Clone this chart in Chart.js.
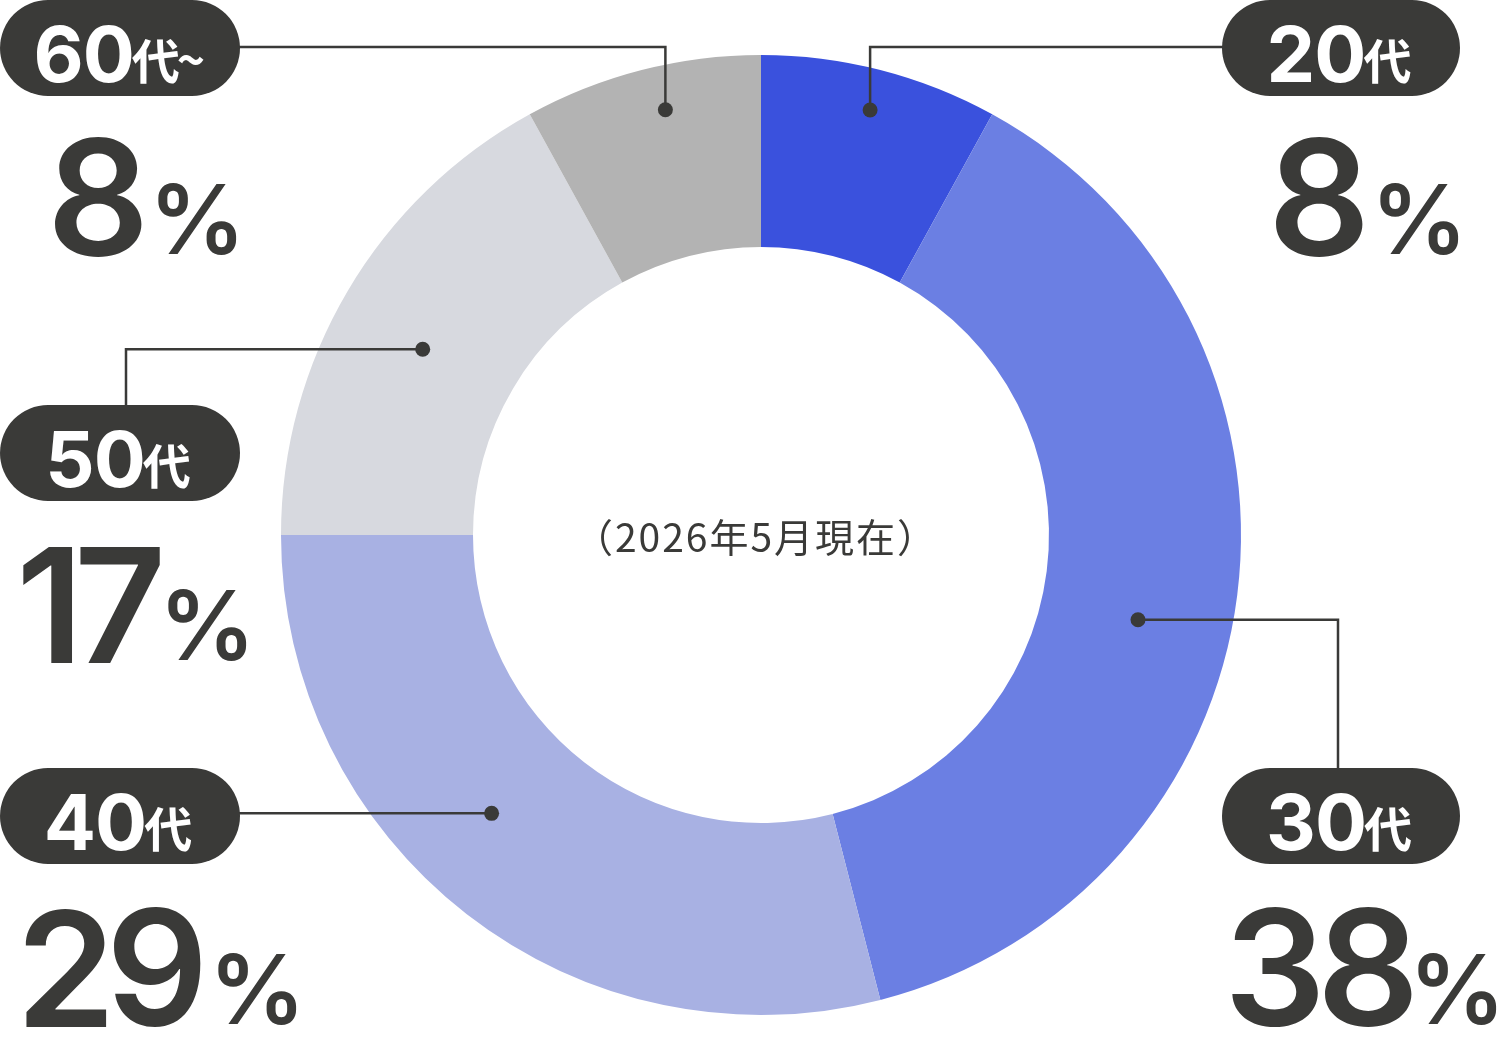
<!DOCTYPE html>
<html><head><meta charset="utf-8">
<script src="https://cdn.jsdelivr.net/npm/chart.js@4.4.1/dist/chart.umd.min.js"></script>
<style>html,body{margin:0;padding:0;background:#fff}canvas{display:block}</style>
</head><body>
<canvas id="c" width="1497" height="1054"></canvas>
<script>
// ---- data ----
const categories = ['20代', '30代', '40代', '50代', '60代~'];
const percentages = [8, 38, 29, 17, 8];
const sliceColors = ['#3a51dd', '#6b7fe3', '#a8b1e3', '#d7d9df', '#b3b3b3'];
const centerNote = '（2026年5月現在）';

// ---- label layout (annotation placement only) ----
const labelLayout = [
  { t: 0.50, rf: 0.914, pill: { x: 1222, y: 0,   w: 238, h: 96 }, num: { x: 1276, y: 257, px: 1380 }, route: 'upRight' },
  { t: 0.54, rf: 0.805, pill: { x: 1222, y: 768, w: 238, h: 96 }, num: { x: 1232, y: 1027, px: 1418 }, route: 'rightDown' },
  { t: 0.56, rf: 0.807, pill: { x: 0,    y: 768, w: 240, h: 96 }, num: { x: 25,   y: 1027, px: 218 }, route: 'left' },
  { t: 0.47, rf: 0.804, pill: { x: 0,    y: 405, w: 240, h: 96 }, num: { x: 23,   y: 663, px: 168 }, route: 'leftDown' },
  { t: 0.56, rf: 0.908, pill: { x: 0,    y: 0,   w: 240, h: 96 }, num: { x: 55,   y: 257, px: 158 }, route: 'upLeft' }
];

const FONT = '"Noto Sans CJK JP", "Noto Sans", sans-serif';
const NUMFONT = 'Inter, "Noto Sans CJK JP", sans-serif';
const INK = '#3a3a38';

function inkText(ctx, str, left, bottom) {
  const m = ctx.measureText(str);
  ctx.fillText(str, left + m.actualBoundingBoxLeft, bottom - m.actualBoundingBoxDescent);
  return m.actualBoundingBoxLeft + m.actualBoundingBoxRight;
}

function sizeFor(ctx, weight, family, ch, targetH) {
  ctx.font = weight + ' 100px ' + family;
  const m = ctx.measureText(ch);
  return 100 * targetH / (m.actualBoundingBoxAscent + m.actualBoundingBoxDescent);
}

const labelsPlugin = {
  id: 'labelsPlugin',
  afterDatasetsDraw(chart) {
    const ctx = chart.ctx;
    const meta = chart.getDatasetMeta(0);
    ctx.save();
    meta.data.forEach((arc, i) => {
      const L = labelLayout[i];
      const p = arc.getProps(['x', 'y', 'startAngle', 'endAngle', 'outerRadius'], true);
      const a = p.startAngle + L.t * (p.endAngle - p.startAngle);
      const r = p.outerRadius * L.rf;
      const dx = p.x + r * Math.cos(a), dy = p.y + r * Math.sin(a);
      const pl = L.pill;
      const pcx = pl.x + pl.w / 2, pcy = pl.y + pl.h / 2;
      // leader line
      ctx.strokeStyle = INK; ctx.lineWidth = 2.5; ctx.lineJoin = 'miter';
      ctx.beginPath();
      ctx.moveTo(dx, dy);
      if (L.route === 'upRight') { ctx.lineTo(dx, pcy - 1); ctx.lineTo(pl.x + 10, pcy - 1); }
      else if (L.route === 'upLeft') { ctx.lineTo(dx, pcy - 1); ctx.lineTo(pl.x + pl.w - 10, pcy - 1); }
      else if (L.route === 'rightDown') { ctx.lineTo(pcx - 3, dy); ctx.lineTo(pcx - 3, pl.y + 5); }
      else if (L.route === 'leftDown') { ctx.lineTo(pcx + 6, dy); ctx.lineTo(pcx + 6, pl.y + 5); }
      else if (L.route === 'left') { ctx.lineTo(pl.x + pl.w - 10, dy); }
      ctx.stroke();
      ctx.fillStyle = INK;
      ctx.beginPath(); ctx.arc(dx, dy, 7.5, 0, Math.PI * 2); ctx.fill();
      // pill
      ctx.beginPath();
      ctx.roundRect(pl.x, pl.y, pl.w, pl.h, pl.h / 2);
      ctx.fill();
      // pill text
      const m = categories[i].match(/^(\d+)(.*)$/);
      const digits = m[1], rest = m[2];
      const kanji = rest.replace('~', ''), tilde = rest.includes('~') ? '~' : '';
      ctx.fillStyle = '#ffffff';
      ctx.textBaseline = 'alphabetic';
      ctx.textAlign = 'left';
      const pdSize = sizeFor(ctx, '700', NUMFONT, '0', 58);
      ctx.font = '700 ' + pdSize.toFixed(1) + 'px ' + NUMFONT;
      ctx.letterSpacing = '-1px';
      const wD = ctx.measureText(digits).width;
      ctx.letterSpacing = '0px';
      ctx.font = '700 48px ' + FONT;
      const wK = ctx.measureText(kanji).width;
      const wT = tilde ? ctx.measureText(tilde).width * 0.8 : 0;
      let x = pcx - (wD + wK + wT - 2) / 2 - 2;
      const base = pl.y + 82;
      ctx.font = '700 ' + pdSize.toFixed(1) + 'px ' + NUMFONT;
      ctx.letterSpacing = '-1px';
      ctx.fillText(digits, x, base); x += wD - 2;
      ctx.letterSpacing = '0px';
      ctx.font = '700 48px ' + FONT; ctx.fillText(kanji, x, base - 3); x += wK;
      if (tilde) { ctx.fillText(tilde, x - 3, base - 4); }
      // percentage number: digits placed by ink, 120px tall
      ctx.fillStyle = INK;
      const dSize = sizeFor(ctx, '600', NUMFONT, '8', 120);
      ctx.font = '600 ' + dSize.toFixed(1) + 'px ' + NUMFONT;
      let cx = L.num.x;
      for (const ch of String(percentages[i])) {
        const w = inkText(ctx, ch, cx, L.num.y);
        cx += w + 7;
      }
      const pSize = sizeFor(ctx, '600', NUMFONT, '%', 73);
      ctx.font = '600 ' + pSize.toFixed(1) + 'px ' + NUMFONT;
      inkText(ctx, '%', L.num.px, L.num.y - 2);
    });
    // center note
    const c0 = meta.data[0];
    ctx.fillStyle = INK;
    ctx.font = '400 39px ' + FONT;
    ctx.letterSpacing = '2px';
    ctx.textAlign = 'center';
    ctx.textBaseline = 'middle';
    ctx.fillText(centerNote, c0.x - 5, c0.y + 2);
    ctx.restore();
  }
};

new Chart(document.getElementById('c'), {
  type: 'doughnut',
  data: {
    labels: categories,
    datasets: [{
      data: percentages,
      backgroundColor: sliceColors,
      borderColor: sliceColors,
      borderWidth: 0,
      hoverOffset: 0
    }]
  },
  options: {
    responsive: false,
    animation: false,
    cutout: '60%',
    layout: { padding: { top: 55, bottom: 39, left: 281, right: 256 } },
    plugins: { legend: { display: false }, tooltip: { enabled: false } },
    events: []
  },
  plugins: [labelsPlugin]
});
</script>
</body></html>
